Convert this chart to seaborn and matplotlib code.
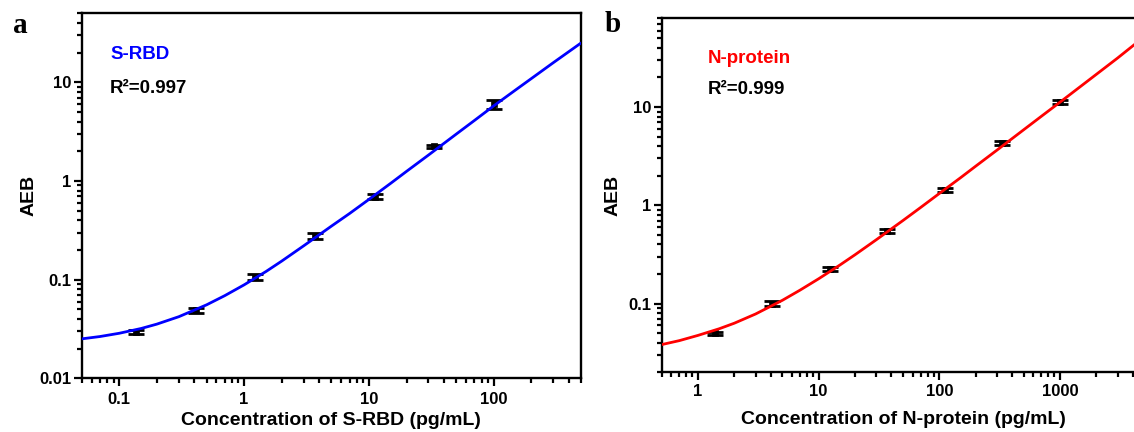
import numpy as np
import matplotlib
matplotlib.use("Agg")
import matplotlib.pyplot as plt
import seaborn as sns
from matplotlib.ticker import FixedLocator, FixedFormatter, LogLocator, NullFormatter

# ---------------- data ----------------
# Panel a : S-RBD
a_conc = [0.137, 0.412, 1.23, 3.70, 11.1, 33.3, 100]
a_aeb = [0.0296, 0.049, 0.106, 0.276, 0.69, 2.24, 6.0]
a_err = [0.0016, 0.003, 0.0075, 0.018, 0.04, 0.10, 0.65]
a_fit_x = [0.05, 0.07, 0.1, 0.15, 0.2, 0.3, 0.5, 0.7, 1, 1.5, 2, 3, 5, 7,
           10, 15, 20, 30, 50, 70, 100, 150, 200, 300, 500]
a_fit_y = [0.0251, 0.0265, 0.0286, 0.0320, 0.0354, 0.0421, 0.0555, 0.0688,
           0.0885, 0.121, 0.154, 0.220, 0.348, 0.468, 0.650, 0.950, 1.25,
           1.83, 2.98, 4.10, 5.77, 8.38, 10.9, 15.8, 25.0]
a_xticks = [0.1, 1, 10, 100]
a_xticklabels = ["0.1", "1", "10", "100"]
a_yticks = [0.01, 0.1, 1, 10]
a_yticklabels = ["0.01", "0.1", "1", "10"]

# Panel b : N-protein
b_conc = [1.37, 4.12, 12.3, 37.0, 111, 333, 1000]
b_aeb = [0.050, 0.100, 0.225, 0.544, 1.44, 4.34, 11.25]
b_err = [0.002, 0.0055, 0.012, 0.025, 0.07, 0.20, 0.60]
b_fit_x = [0.5, 0.7, 1, 1.5, 2, 3, 5, 7, 10, 15, 20, 30, 50, 70, 100, 150,
           200, 300, 500, 700, 1000, 1500, 2000, 3000, 5000]
b_fit_y = [0.0383, 0.0420, 0.0475, 0.0555, 0.0632, 0.0784, 0.108, 0.137,
           0.179, 0.247, 0.314, 0.446, 0.701, 0.951, 1.32, 1.91, 2.50, 3.64,
           5.87, 8.04, 11.2, 16.4, 21.5, 31.5, 52.0]
b_xticks = [1, 10, 100, 1000]
b_xticklabels = ["1", "10", "100", "1000"]
b_yticks = [0.1, 1, 10]
b_yticklabels = ["0.1", "1", "10"]

# ---------------- style ----------------
sns.set_theme(style="ticks")
plt.rcParams["font.family"] = ["Liberation Sans", "DejaVu Sans"]
plt.rcParams["font.weight"] = "bold"
plt.rcParams["axes.labelweight"] = "bold"
plt.rcParams["text.color"] = "black"
plt.rcParams["axes.labelcolor"] = "black"
plt.rcParams["axes.edgecolor"] = "black"
plt.rcParams["axes.linewidth"] = 1.7
plt.rcParams["xtick.color"] = "black"
plt.rcParams["ytick.color"] = "black"
plt.rcParams["xtick.labelcolor"] = "black"
plt.rcParams["ytick.labelcolor"] = "black"

W, H = 1134, 432
fig = plt.figure(figsize=(W / 100, H / 100), dpi=100)


def px_axes(left, right, top, bottom):
    return [left / W, (H - bottom) / H, (right - left) / W, (bottom - top) / H]


ax_a = fig.add_axes(px_axes(81.7, 581.0, 13.3, 378.3))
ax_b = fig.add_axes(px_axes(661.7, 1144.3, 18.3, 372.3))


def draw(ax, conc, aeb, err, fx, fy, color):
    ax.set_xscale("log")
    ax.set_yscale("log")
    ax.errorbar(conc, aeb, yerr=err, fmt="none", ecolor="black",
                elinewidth=2.2, capsize=6, capthick=2.0, zorder=2)
    sns.scatterplot(x=conc, y=aeb, ax=ax, marker="s", s=22, color="black",
                    edgecolor="black", linewidth=0.5, zorder=3, legend=False)
    sns.lineplot(x=fx, y=fy, ax=ax, color=color, linewidth=2.0, zorder=4,
                 legend=False)


def style(ax, xlim, ylim, xt, xtl, yt, ytl, xpad):
    ax.set_xlim(*xlim)
    ax.set_ylim(*ylim)
    ax.xaxis.set_major_locator(FixedLocator(xt))
    ax.xaxis.set_major_formatter(FixedFormatter(xtl))
    ax.yaxis.set_major_locator(FixedLocator(yt))
    ax.yaxis.set_major_formatter(FixedFormatter(ytl))
    for axis in (ax.xaxis, ax.yaxis):
        axis.set_minor_locator(LogLocator(base=10, subs=np.arange(2, 10), numticks=30))
        axis.set_minor_formatter(NullFormatter())
    ax.tick_params(which="both", direction="out", top=False, right=False,
                   width=1.6, colors="black")
    ax.tick_params(which="major", length=6, labelsize=12)
    ax.tick_params(which="minor", length=3.5)
    ax.tick_params(axis="x", which="major", pad=xpad)
    ax.tick_params(axis="y", which="major", pad=1.2)
    for s in ax.spines.values():
        s.set_visible(True)
        s.set_linewidth(1.7)
        s.set_color("black")
    for lab in ax.get_xticklabels() + ax.get_yticklabels():
        lab.set_fontweight("bold")


draw(ax_a, a_conc, a_aeb, a_err, a_fit_x, a_fit_y, "#0000FF")
style(ax_a, (0.05, 500), (0.01, 50), a_xticks, a_xticklabels,
      a_yticks, a_yticklabels, 3.6)
ax_a.set_xlabel("Concentration of S-RBD (pg/mL)", fontsize=14, fontweight="bold")
ax_a.set_ylabel("AEB", fontsize=14, fontweight="bold")
ax_a.xaxis.set_label_coords(0.5, -0.092)
ax_a.yaxis.set_label_coords(-0.088, 0.5)
ax_a.text(0.0567, 0.8748, "S-RBD", transform=ax_a.transAxes, color="#0000FF",
          fontsize=13.5, fontweight="bold", va="baseline", ha="left")
ax_a.text(0.0567, 0.7808, "R\u00b2=0.997", transform=ax_a.transAxes, color="black",
          fontsize=13.5, fontweight="bold", va="baseline", ha="left")

draw(ax_b, b_conc, b_aeb, b_err, b_fit_x, b_fit_y, "#FF0000")
style(ax_b, (0.5, 5000), (0.02, 80), b_xticks, b_xticklabels,
      b_yticks, b_yticklabels, 2.4)
ax_b.set_xlabel("Concentration of N-protein (pg/mL)", fontsize=14, fontweight="bold")
ax_b.set_ylabel("AEB", fontsize=14, fontweight="bold")
ax_b.xaxis.set_label_coords(0.5, -0.1085)
ax_b.yaxis.set_label_coords(-0.0843, 0.5)
ax_b.text(0.0959, 0.8729, "N-protein", transform=ax_b.transAxes, color="#FF0000",
          fontsize=13.5, fontweight="bold", va="baseline", ha="left")
ax_b.text(0.0959, 0.7853, "R\u00b2=0.999", transform=ax_b.transAxes, color="black",
          fontsize=13.5, fontweight="bold", va="baseline", ha="left")

fig.text(13 / W, 1 - 33 / H, "a", family=["Liberation Serif", "DejaVu Serif"],
         fontweight="bold", fontsize=21, va="baseline", ha="left")
fig.text(605 / W, 1 - 32 / H, "b", family=["Liberation Serif", "DejaVu Serif"],
         fontweight="bold", fontsize=21, va="baseline", ha="left")

fig.savefig("out.png", dpi=100, facecolor="white")
